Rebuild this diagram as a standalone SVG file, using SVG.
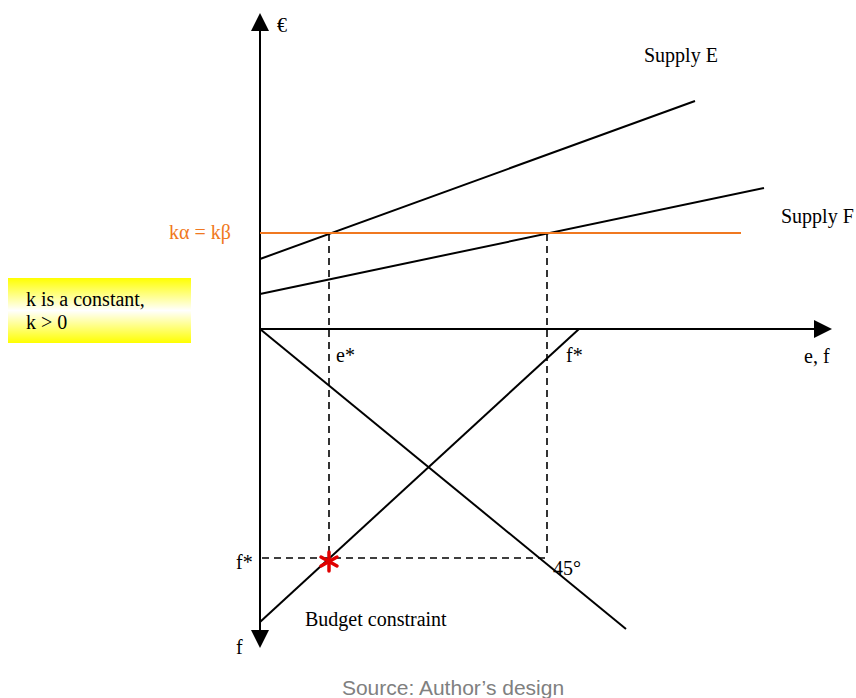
<svg xmlns="http://www.w3.org/2000/svg" width="856" height="698" viewBox="0 0 856 698">
<defs>
<linearGradient id="yg" x1="0" y1="0" x2="0" y2="1">
<stop offset="0" stop-color="#ffff00"/>
<stop offset="0.5" stop-color="#ffffff"/>
<stop offset="1" stop-color="#ffff00"/>
</linearGradient>
</defs>
<style>
.t{font-family:"Liberation Serif","Times New Roman",serif;font-size:20px;fill:#000}
.ln{stroke:#000;stroke-width:2;fill:none}
.d{stroke:#000;stroke-width:1.6;stroke-dasharray:7,5;fill:none}
</style>
<rect width="856" height="698" fill="#fff"/>
<g id="note">
<rect x="8" y="278" width="183" height="65" fill="url(#yg)"/>
<text class="t" x="26" y="306">k is a constant,</text>
<text class="t" x="26" y="329">k &gt; 0</text>
</g>
<g id="connectors">
<line class="ln" x1="260" y1="30" x2="260" y2="630"/>
<polygon points="260,13 251,31 269,31" fill="#000"/>
<polygon points="260,648 251,630 269,630" fill="#000"/>
<line class="ln" x1="260" y1="329" x2="815" y2="329"/>
<polygon points="832,329 814,320 814,338" fill="#000"/>
<line class="d" x1="329" y1="234" x2="329" y2="562"/>
<line class="d" x1="547" y1="234" x2="547" y2="558"/>
<line class="d" x1="262" y1="558" x2="547" y2="558"/>
<line class="ln" x1="260" y1="259" x2="695" y2="101"/>
<line class="ln" x1="260" y1="294" x2="764" y2="188"/>
<line x1="260" y1="233" x2="741" y2="233" stroke="#f07820" stroke-width="2"/>
<line class="ln" x1="260" y1="329" x2="626" y2="629"/>
<line class="ln" x1="260" y1="622" x2="579" y2="329"/>
</g>
<g id="star" stroke="#e00000" stroke-width="3.5" stroke-linecap="round">
<line x1="329" y1="552" x2="329" y2="571"/>
<line x1="321" y1="557" x2="337" y2="566"/>
<line x1="321" y1="566" x2="337" y2="557"/>
</g>
<g id="labels">
<text class="t" x="277" y="32">€</text>
<text class="t" x="644" y="62">Supply E</text>
<text class="t" x="781" y="223">Supply F</text>
<text class="t" x="169" y="239" style="fill:#f07820">kα = kβ</text>
<text class="t" x="336" y="362">e*</text>
<text class="t" x="566" y="362">f*</text>
<text class="t" x="804" y="363">e, f</text>
<text class="t" x="236" y="569">f*</text>
<text class="t" x="553" y="575">45°</text>
<text class="t" x="305" y="626">Budget constraint</text>
<text class="t" x="236" y="654">f</text>
<text x="453" y="695" text-anchor="middle" style="font-family:'Liberation Sans',Arial,sans-serif;font-size:21px;fill:#808080">Source: Author’s design</text>
</g>
</svg>
